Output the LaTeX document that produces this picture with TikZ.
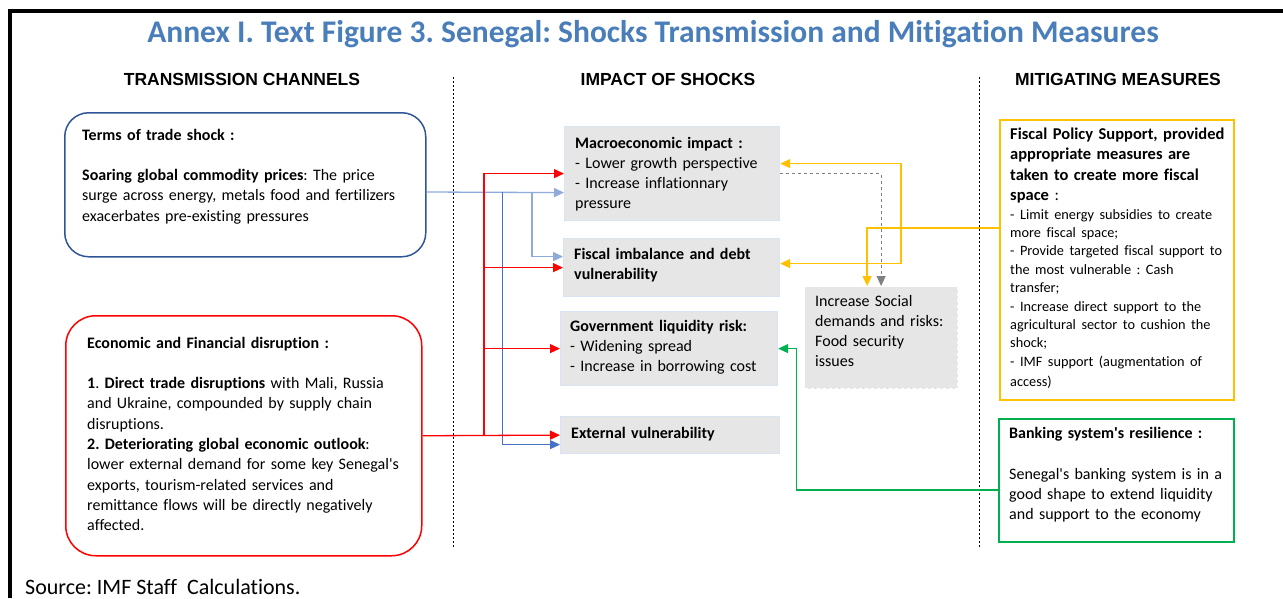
\documentclass[tikz,border=0pt]{standalone}
\usepackage{fontspec}
\setmainfont{Carlito}[Ligatures=NoCommon]
\newfontfamily\headfont{Liberation Sans}
\usepackage{tikz}
\usetikzlibrary{arrows.meta}
\frenchspacing

\definecolor{titleblue}{HTML}{4A7EBB}
\definecolor{totblue}{HTML}{2F5597}
\definecolor{linkblue}{HTML}{4472C4}
\definecolor{lightblue}{HTML}{8FAADC}
\definecolor{shockred}{HTML}{FF0000}
\definecolor{impgray}{HTML}{E6E6E6}
\definecolor{impedge}{HTML}{DAE3F3}
\definecolor{fpsyellow}{HTML}{FFC000}
\definecolor{bankgreen}{HTML}{00B050}

\begin{document}
\begin{tikzpicture} [
    x=1pt, y=-1pt,
    chanbox/.style = {draw, line width=1.5pt, rounded corners=24pt, anchor=north west, inner sep=0pt},
    impbox/.style = {fill=impgray, draw=impedge, line width=1.2pt, anchor=north west, inner sep=0pt},
    mitbox/.style = {draw, line width=1.8pt, anchor=north west, inner sep=0pt},
    boxtext/.style = {anchor=base west, inner sep=0pt, align=left, text width=#1,
        font=\fontsize{16}{20.3}\selectfont},
    colhead/.style = {anchor=base, inner sep=0pt, font=\headfont\bfseries\fontsize{17.5}{20}\selectfont},
    link/.style = {line width=1.3pt, -{Triangle[length=10pt,width=9pt]}},
    divider/.style = {line width=0.8pt, dash pattern=on 2pt off 2pt}
]
    \useasboundingbox (0,0) rectangle (1283,598);
    \draw[line width=3.5pt] (10,598) -- (10,11) -- (1283,11);

    \node[anchor=base, inner sep=0pt, text=titleblue, font=\bfseries\fontsize{31.5}{36}\selectfont] (title) at (653,42)
        {Annex I. Text Figure 3. Senegal: Shocks Transmission and Mitigation Measures};

    \node[colhead] (h-chan) at (242,85) {TRANSMISSION CHANNELS};
    \node[colhead] (h-imp) at (668,85) {IMPACT OF SHOCKS};
    \node[colhead] (h-mit) at (1118,85) {MITIGATING MEASURES};

    \draw[divider] (453,77) -- (453,548);
    \draw[divider] (979,77) -- (979,548);

    % transmission channels
    \node[chanbox, draw=totblue, minimum width=361pt, minimum height=144pt] (tot) at (64,112) {};
    \node[boxtext=330pt] (tot-txt) at (82,140) {\textbf{Terms of trade shock :}\\[20.3pt]
        \textbf{Soaring global commodity prices}: The price\\
        surge across energy, metals food and fertilizers\\
        exacerbates pre-existing pressures};

    \node[chanbox, draw=shockred, rounded corners=30pt, minimum width=356pt, minimum height=240pt] (efd) at (65,315) {};
    \node[boxtext=330pt] (efd-txt) at (87,348) {\textbf{Economic and Financial disruption :}\\[20.3pt]
        \textbf{1}. \textbf{Direct trade disruptions} with Mali, Russia\\
        and Ukraine, compounded by supply chain\\
        disruptions.\\
        \textbf{2. Deteriorating global economic outlook}:\\
        lower external demand for some key Senegal\textquotesingle s\\
        exports, tourism-related services and\\
        remittance flows will be directly negatively\\
        affected.};

    % impact of shocks
    \node[impbox, minimum width=215pt, minimum height=94pt] (macro) at (564,126) {};
    \node[boxtext=200pt] (macro-txt) at (575,148) {\textbf{Macroeconomic impact :}\\
        - Lower growth perspective\\
        - Increase inflationnary\\
        pressure};

    \node[impbox, minimum width=216pt, minimum height=58pt] (fiscal) at (563,238) {};
    \node[boxtext=200pt] (fiscal-txt) at (574,259) {\textbf{Fiscal imbalance and debt}\\
        \textbf{vulnerability}};

    \node[impbox, minimum width=217pt, minimum height=74pt] (gov) at (560,311) {};
    \node[boxtext=205pt] (gov-txt) at (570,331) {\textbf{Government liquidity risk:}\\
        - Widening spread\\
        - Increase in borrowing cost};

    \node[impbox, minimum width=219pt, minimum height=37pt] (ext) at (560,416) {};
    \node[boxtext=205pt] (ext-txt) at (571,438) {\textbf{External vulnerability}};

    \node[impbox, draw=white, dashed, minimum width=153pt, minimum height=102pt] (social) at (804,286) {};
    \node[boxtext=140pt] (social-txt) at (815,306) {Increase Social\\
        demands and risks:\\
        Food security\\
        issues};

    % mitigating measures
    \node[mitbox, draw=fpsyellow, minimum width=234pt, minimum height=280pt] (fps) at (999,119) {};
    \node[boxtext=222pt, font=\fontsize{16.5}{20.4}\selectfont] (fps-txt) at (1010,139.5)
        {\textbf{Fiscal Policy Support, provided}\\
        \textbf{appropriate measures are}\\
        \textbf{taken to create more fiscal}\\
        \textbf{space} :\par
        \fontsize{14.3}{18.4}\selectfont
        - Limit energy subsidies to create\\
        more fiscal space;\\
        - Provide targeted fiscal support to\\
        the most vulnerable : Cash\\
        transfer;\\
        - Increase direct support to the\\
        agricultural sector to cushion the\\
        shock;\\
        - IMF support (augmentation of\\
        access)};

    \node[mitbox, draw=bankgreen, minimum width=235pt, minimum height=123pt] (bank) at (998,418) {};
    \node[boxtext=222pt] (bank-txt) at (1009,438.5) {\textbf{Banking system\textquotesingle s resilience :}\\[20.3pt]
        Senegal\textquotesingle s banking system is in a\\
        good shape to extend liquidity\\
        and support to the economy};

    % connectors
    \coordinate (bsplit1) at (502,192);
    \coordinate (bsplit2) at (532,192);
    \draw[link, lightblue] (tot.east |- bsplit1) -- ([yshift=-19pt]macro.west);
    \draw[link, lightblue] (bsplit2) |- ([yshift=11pt]fiscal.west);
    \draw[link, linkblue, line width=1pt] (bsplit1) |- ([yshift=-9.5pt]ext.west);

    \coordinate (rsplit) at (484,435);
    \draw[link, shockred] (efd.east) -- (ext.west);
    \draw[link, shockred] (rsplit) |- (macro.west);
    \draw[link, shockred] (rsplit |- fiscal.west) -- (fiscal.west);
    \draw[link, shockred] (rsplit |- gov.west) -- (gov.west);

    \coordinate (ysplit) at (901,228);
    \draw[link, fpsyellow] (fps.west |- ysplit) -| ([xshift=-14pt]social.north);
    \draw[link, fpsyellow] (ysplit) |- ([yshift=10pt]macro.east);
    \draw[link, fpsyellow] (ysplit) |- ([yshift=4pt]fiscal.east);

    \draw[link, gray, line width=1pt, dashed] (macro.east) -| (social.north);

    \draw[link, bankgreen] ([yshift=-9.5pt]bank.west) -| ([xshift=18pt]gov.east) -- (gov.east);

    \node[anchor=base west, inner sep=0pt, font=\fontsize{22}{26}\selectfont] (source) at (25,594)
        {Source: IMF Staff\ \ Calculations.};
\end{tikzpicture}
\end{document}
